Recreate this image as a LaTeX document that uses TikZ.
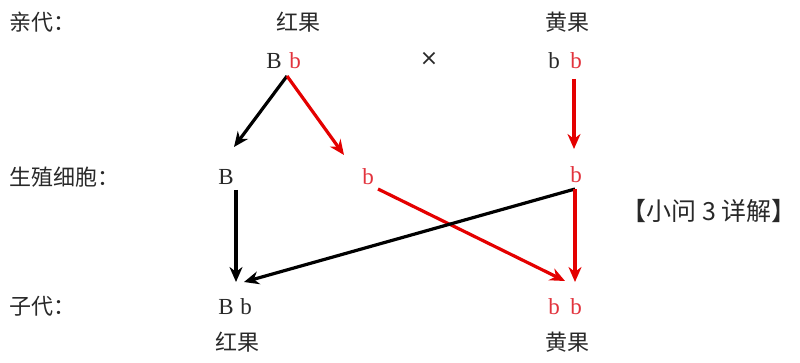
\documentclass[tikz,border=0pt]{standalone}
\usepackage{fontspec}
\setmainfont{Liberation Serif}
\newfontfamily\cjk{Noto Sans CJK SC}
\newfontfamily\dvs{DejaVu Sans}
\usetikzlibrary{arrows.meta}
\definecolor{arr}{RGB}{228,0,0}
\definecolor{rtxt}{RGB}{226,50,60}
\definecolor{tx}{RGB}{40,40,40}
\begin{document}
\begin{tikzpicture}[x=1pt,y=-1pt,
  lab/.style={font=\cjk\fontsize{22}{24}\selectfont,text=tx,inner sep=0pt},
  gen/.style={font=\fontsize{23}{25}\selectfont,text=tx,inner sep=0pt},
  rgen/.style={gen,text=rtxt},
  blk/.style={line width=3.2pt,draw=black,-{Stealth[length=15pt,width=13pt]}},
  red/.style={line width=3.2pt,draw=arr,-{Stealth[length=15pt,width=13pt]}}]
\useasboundingbox (0,0) rectangle (800,363);
% row labels
\node[lab,anchor=west] (l1) at (9,22) {亲代：};
\node[lab,anchor=west] (l2) at (9,177) {生殖细胞：};
\node[lab,anchor=west] (l3) at (9,306) {子代：};
% parents
\node[lab] (p1) at (298,22) {红果};
\node[lab] (p2) at (567,22) {黄果};
\node[gen] (pB) at (274,61) {B};
\node[rgen] (pb) at (295,61) {b};
\node[lab,font=\dvs\fontsize{22}{24}\selectfont] (cross) at (429,59) {×};
\node[gen] (qb1) at (554,61) {b};
\node[rgen] (qb2) at (576,61) {b};
% gametes
\node[gen] (gB) at (226,177) {B};
\node[rgen] (gb) at (368,177) {b};
\node[rgen] (gy) at (576,175) {b};
\node[lab,anchor=east,font=\cjk\fontsize{25}{27}\selectfont] (q) at (797,211) {【小问 3 详解】};
% offspring
\node[gen] (oB) at (226,307) {B};
\node[gen] (ob) at (246,307) {b};
\node[lab] (o1) at (237,342) {红果};
\node[rgen] (ob1) at (554,307) {b};
\node[rgen] (ob2) at (576,307) {b};
\node[lab] (o2) at (567,342) {黄果};
% arrow anchors
\coordinate (top1) at (287,76);
\coordinate (top2) at (574,79);
\coordinate (bt) at (575,189);
% arrows
\draw[blk] (top1) -- (234,147);
\draw[red] (top1) -- (344,155);
\draw[red] (top2) -- (574,149);
\draw[blk] (236,190) -- (236,282);
\draw[red] (378,189) -- (565,281);
\draw[blk] (bt) -- (244,282);
\draw[red] (bt) -- (575,282);
\end{tikzpicture}
\end{document}
